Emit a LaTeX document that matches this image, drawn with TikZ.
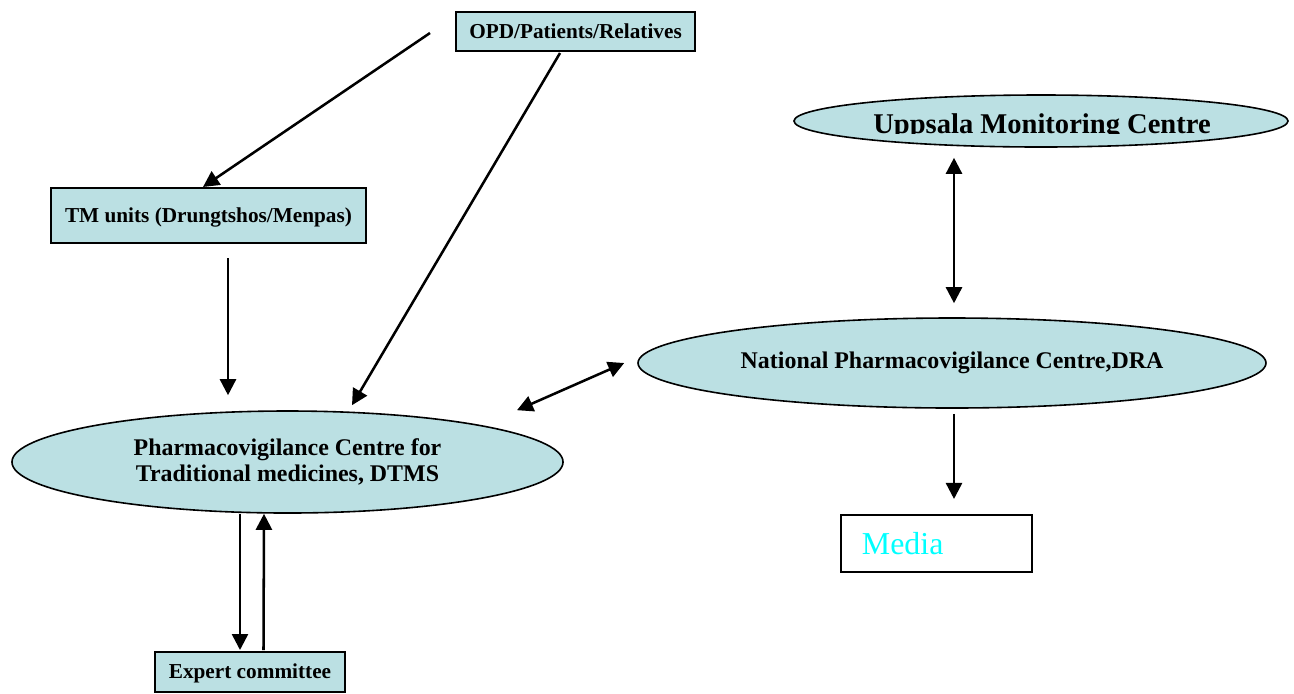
\documentclass[tikz,border=0pt]{standalone}
\usepackage{fontspec}
\setmainfont{Liberation Serif}
\usetikzlibrary{shapes.geometric,arrows.meta,calc}
\definecolor{pvblue}{RGB}{187,224,227}
\definecolor{mediacyan}{RGB}{0,255,255}
\tikzset{
  box/.style={draw,line width=1.5bp,fill=pvblue,inner sep=0pt,text depth=1bp,font=\fontsize{16}{19}\selectfont\bfseries},
  oval/.style={draw,ellipse,line width=1.2bp,fill=pvblue,inner sep=0pt,align=center,font=\fontsize{18}{20}\selectfont\bfseries},
  arr/.style={line width=1.9bp,-{Triangle[length=12bp,width=12bp]}},
  darr/.style={line width=1.9bp,{Triangle[length=12bp,width=12bp]}-{Triangle[length=12bp,width=12bp]}}
}
\begin{document}
\begin{tikzpicture}[x=0.75bp,y=-0.75bp]
\useasboundingbox (0,0) rectangle (1294,693);
% boxes
\node (OPD) at (575.5,31.5)[box,minimum width=179.3bp,minimum height=29.3bp] {OPD/Patients/Relatives};
\node (TM) at (208.5,215.5)[box,minimum width=236.3bp,minimum height=41.3bp] {TM units (Drungtshos/Menpas)};
\node (EC) at (250,672)[box,minimum width=142.5bp,minimum height=30bp] {Expert committee};
\node (MD) at (936.5,543.5)[draw,line width=1.5bp,fill=white,minimum height=42.8bp,inner xsep=15.75bp,inner ysep=0pt,text width=111.8bp,align=left,text=mediacyan,font=\fontsize{24}{26}\selectfont] {Media};
% ovals
\node (UMC) at (1041,121)[oval,minimum width=370.5bp,minimum height=39bp] {};
\begin{scope}
\clip (794,95) rectangle (1294,133.5);
\node (UMCtext) at (1042,133)[anchor=base,inner sep=0pt,font=\fontsize{21.5}{24}\selectfont\bfseries] {Uppsala Monitoring Centre};
\end{scope}
\node (NPC) at (952,363)[oval,minimum width=471bp,minimum height=67.5bp] {National Pharmacovigilance Centre,DRA};
\node (PVC) at (287.5,462)[oval,minimum width=413.3bp,minimum height=76.5bp] {Pharmacovigilance Centre for\\Traditional medicines, DTMS};
% connectors
\coordinate (src) at (430,33);
\draw[arr] (src) -- ($(TM.north)+(-5.5,0)$);
\draw[arr] ($(OPD.south)+(-15.5,1)$) -- ($(PVC.north)+(64.5,-5)$);
\draw[arr] ($(TM.south)+(19.5,14)$) -- ($(PVC.north)+(-59.5,-15)$);
\draw[darr] ($(PVC.north)+(229.5,0)$) -- ($(NPC.west)+(-13,0)$);
\draw[darr] ($(UMC.south)+(-87,10)$) -- ($(NPC.north)+(2,-14)$);
\draw[arr] ($(NPC.south)+(2,5)$) -- ($(MD.north)+(17.5,-15)$);
\draw[arr] ($(PVC.south)+(-47.5,0)$) -- ($(EC.north)+(-10,-1)$);
\draw[arr] ($(EC.north)+(13.5,-1)$) -- ($(PVC.south)+(-23.5,0)$);
\end{tikzpicture}
\end{document}
